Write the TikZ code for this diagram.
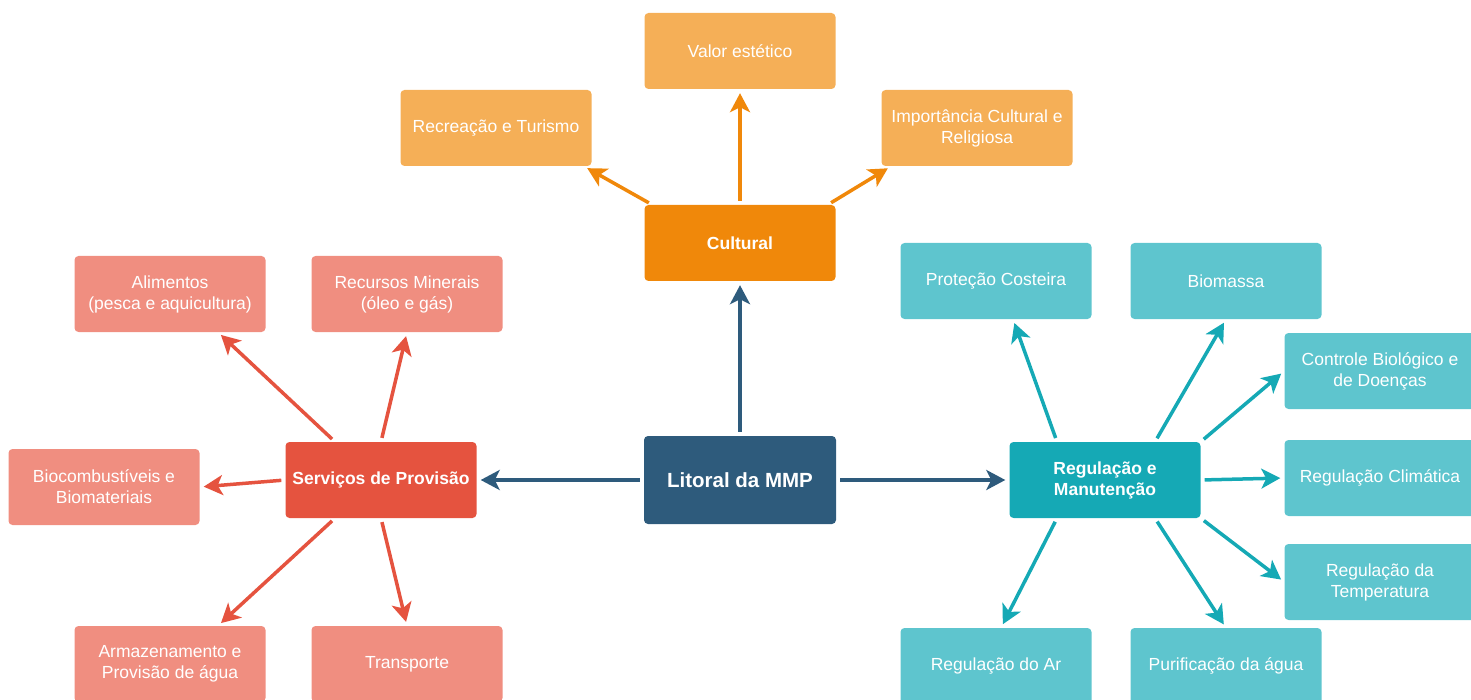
\documentclass[tikz,border=0pt]{standalone}
\usepackage{fontspec}
\setmainfont{Liberation Sans}
\usetikzlibrary{arrows.meta}
\definecolor{mmpblue}{HTML}{2E5B7C}
\definecolor{cultdark}{HTML}{F0880A}
\definecolor{cultlight}{HTML}{F5AF57}
\definecolor{provdark}{HTML}{E5533F}
\definecolor{provlight}{HTML}{F08E80}
\definecolor{regdark}{HTML}{15A9B5}
\definecolor{reglight}{HTML}{5EC5CE}

\begin{document}
\begin{tikzpicture}[x=1pt,y=-1pt]
\tikzstyle{box}=[rounded corners=4pt, minimum width=191pt, minimum height=76pt, inner sep=2pt, align=center, text=white, font=\fontsize{17.5}{21}\selectfont]
\tikzstyle{head}=[box, font=\fontsize{17.5}{21}\selectfont\bfseries]
\tikzstyle{link}=[line width=3.5pt, -{Stealth[length=19pt,width=20pt,inset=5pt]}, shorten <=4pt, shorten >=4pt]
\useasboundingbox (0,0) rectangle (1471,700);

\node [head, fill=mmpblue, minimum width=192pt, minimum height=88pt, font=\fontsize{20.5}{24}\selectfont\bfseries] (lit) at (740,480) {Litoral da MMP};

\node [head, fill=cultdark] (cult) at (740,243) {Cultural};
\node [box, fill=cultlight] (val) at (740,51) {Valor estético};
\node [box, fill=cultlight] (rec) at (496,128) {Recreação e Turismo};
\node [box, fill=cultlight] (imp) at (977,128) {Importância Cultural e\\Religiosa};

\node [head, fill=provdark] (serv) at (381,480) {Serviços de Provisão};
\node [box, fill=provlight] (ali) at (170,294) {Alimentos\\(pesca e aquicultura)};
\node [box, fill=provlight] (rm) at (407,294) {Recursos Minerais\\(óleo e gás)};
\node [box, fill=provlight] (bio) at (104,487) {Biocombustíveis e\\Biomateriais};
\node [box, fill=provlight] (arm) at (170,664) {Armazenamento e\\Provisão de água};
\node [box, fill=provlight] (tra) at (407,664) {Transporte};

\node [head, fill=regdark] (reg) at (1105,480) {Regulação e\\Manutenção};
\node [box, fill=reglight] (pro) at (996,281) {Proteção Costeira};
\node [box, fill=reglight] (bms) at (1226,281) {Biomassa};
\node [box, fill=reglight] (ctl) at (1380,371) {Controle Biológico e\\de Doenças};
\node [box, fill=reglight] (clm) at (1380,478) {Regulação Climática};
\node [box, fill=reglight] (tmp) at (1380,582) {Regulação da\\Temperatura};
\node [box, fill=reglight] (ar) at (996,666) {Regulação do Ar};
\node [box, fill=reglight] (pur) at (1226,666) {Purificação da água};

\draw [link, mmpblue] (lit.north) -- (cult.south);
\draw [link, mmpblue] (lit.west) -- (serv.east);
\draw [link, mmpblue] (lit.east) -- (reg.west);

\draw [link, cultdark] (cult.north) -- (val.south);
\draw [link, cultdark] ([xshift=8]cult.north west) -- ([xshift=-8]rec.south east);
\draw [link, cultdark] ([xshift=-8]cult.north east) -- ([xshift=10]imp.south west);

\draw [link, provdark] ([xshift=-46]serv.north) -- ([xshift=48]ali.south);
\draw [link, provdark] (serv.north) -- (rm.south);
\draw [link, provdark] (serv.west) -- (bio.east);
\draw [link, provdark] ([xshift=-46]serv.south) -- ([xshift=48]arm.north);
\draw [link, provdark] (serv.south) -- (tra.north);

\draw [link, regdark] ([xshift=-48]reg.north) -- ([xshift=17]pro.south);
\draw [link, regdark] ([xshift=50]reg.north) -- (bms.south);
\draw [link, regdark] (reg.north east) -- (ctl.west);
\draw [link, regdark] (reg.east) -- (clm.west);
\draw [link, regdark] (reg.south east) -- (tmp.west);
\draw [link, regdark] ([xshift=-48]reg.south) -- ([xshift=5]ar.north);
\draw [link, regdark] ([xshift=50]reg.south) -- (pur.north);
\end{tikzpicture}
\end{document}
